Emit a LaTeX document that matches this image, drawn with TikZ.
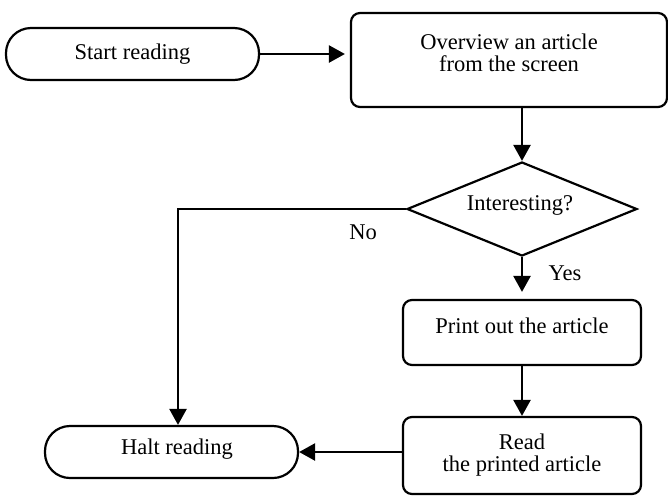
\documentclass[tikz,border=0pt]{standalone}
\usepackage{fontspec}
\setmainfont{Liberation Serif}
\usetikzlibrary{shapes.geometric,arrows.meta,calc}
\begin{document}
\begin{tikzpicture}[x=1pt,y=-1pt,
  every node/.style={font=\fontsize{22.5}{22}\selectfont},
  arr/.style={line width=2.4pt,-{Triangle[length=16pt,width=17pt]}},
  stadium/.style={draw,line width=2.2pt,rounded corners=25pt,inner sep=0pt},
  rbox/.style={draw,line width=2.2pt,rounded corners=9pt,inner sep=0pt},
  decision/.style={draw,line width=2.2pt,diamond,aspect=2.45,inner sep=0pt,minimum width=230pt,minimum height=94pt},
  txt/.style={inner sep=0pt,align=center}
]
\useasboundingbox (0,0) rectangle (668,496);
\node[stadium,minimum width=253pt,minimum height=52pt] (start) at (132.5,54) {Start reading};
\node[rbox,minimum width=316pt,minimum height=94pt] (ov) at (509,60) {};
\node[txt] (ovt) at (509,53) {Overview an article\\from the screen};
\node[decision] (dia) at (522,209) {};
\node[txt] (diat) at (520,205) {Interesting?};
\node[rbox,minimum width=238pt,minimum height=65pt] (pr) at (522,332.5) {};
\node[txt] (prt) at (522,326) {Print out the article};
\node[rbox,minimum width=238pt,minimum height=77pt] (rd) at (522,455.5) {};
\node[txt] (rdt) at (522,455) {Read\\the printed article};
\node[stadium,minimum width=253pt,minimum height=52pt] (halt) at (171.5,452) {};
\node[txt] (haltt) at (177,449) {Halt reading};
\coordinate (corner) at (178,209);
\node[txt] (no) at (363,232) {No};
\node[txt] (yes) at (565,273) {Yes};

\draw[arr,shorten >=5pt] (start.east) -- (start.east -| ov.west);
\draw[arr] (dia.north |- ov.south) -- (dia.north);
\draw[arr] (dia.west) -- (corner) -- (corner |- halt.north);
\draw[arr,shorten >=7pt] (dia.south) -- (pr.north);
\draw[arr] (pr.south) -- (rd.north);
\draw[arr] (rd.west |- halt.east) -- (halt.east);
\end{tikzpicture}
\end{document}
